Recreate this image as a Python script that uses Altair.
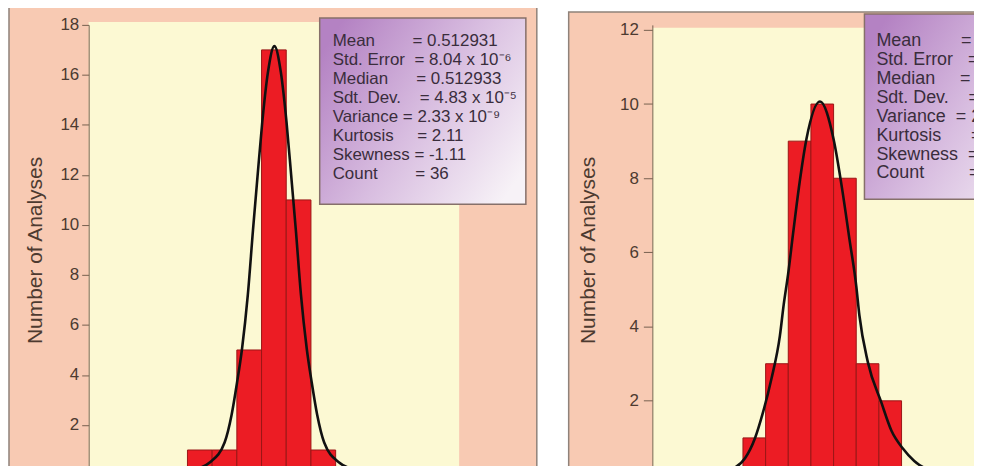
import altair as alt
import pandas as pd

NB = "\u00a0"
FONT = "Liberation Sans"

# ---------------- Left panel data ----------------
left_bin_start = [0.51275, 0.51280, 0.51285, 0.51290, 0.51295, 0.51300]
left_bin_end = [0.51280, 0.51285, 0.51290, 0.51295, 0.51300, 0.51305]
left_counts = [1, 1, 5, 17, 11, 1]
left_curve_x = [0.5127204, 0.5127607, 0.5127950, 0.5128252, 0.5128393, 0.5128504,
                0.5128605, 0.5128722, 0.5128827, 0.5128921, 0.5129014, 0.5129129,
                0.5129260, 0.5129391, 0.5129506, 0.5129599, 0.5129694, 0.5129798,
                0.5129915, 0.5130016, 0.5130127, 0.5130268, 0.5130571, 0.5130913,
                0.5131317]
left_curve_y = [0.05, 0.2, 0.5, 1.3, 2.4, 3.7, 5.05, 7.2, 9.8, 12.0, 14.1, 16.1,
                17.15, 16.1, 14.1, 12.0, 9.8, 7.2, 5.05, 3.7, 2.4, 1.3, 0.5, 0.2, 0.05]
left_y_ticks = [0, 2, 4, 6, 8, 10, 12, 14, 16, 18]
left_y_domain = [0, 18]
left_stats = [
    "Mean" + NB * 8 + "= 0.512931",
    "Std. Error" + NB * 2 + "= 8.04 x 10\u207b\u2076",
    "Median" + NB * 6 + "= 0.512933",
    "Sdt. Dev." + NB * 4 + "= 4.83 x 10\u207b\u2075",
    "Variance" + NB * 1 + "= 2.33 x 10\u207b\u2079",
    "Kurtosis" + NB * 5 + "= 2.11",
    "Skewness" + NB * 1 + "= -1.11",
    "Count" + NB * 8 + "= 36",
]

# ---------------- Right panel data ----------------
right_bin_start = [0.51263, 0.51264, 0.51265, 0.51266, 0.51267, 0.51268, 0.51269]
right_bin_end = [0.51264, 0.51265, 0.51266, 0.51267, 0.51268, 0.51269, 0.51270]
right_counts = [1, 3, 9, 10, 8, 3, 2]
right_curve_x = [0.5125992, 0.5126111, 0.5126199, 0.5126257, 0.5126309, 0.5126353,
                 0.5126389, 0.5126426, 0.5126463, 0.5126480, 0.5126499, 0.5126521,
                 0.5126547, 0.5126580, 0.5126640, 0.5126700, 0.5126738, 0.5126770,
                 0.5126800, 0.5126814, 0.5126851, 0.5126910, 0.5126955, 0.5127005,
                 0.5127056, 0.5127107, 0.5127210, 0.5127386]
right_curve_y = [0.03, 0.05, 0.1, 0.18, 0.45, 0.99, 1.7, 2.6, 3.75, 4.6, 5.4, 6.5,
                 7.75, 9.05, 10.07, 9.05, 7.7, 6.36, 5.1, 4.3, 3.05, 1.97, 1.2, 0.72,
                 0.38, 0.18, 0.07, 0.03]
right_y_ticks = [0, 2, 4, 6, 8, 10, 12]
right_y_domain = [0, 12.134]
right_stats = [
    "Mean" + NB * 8 + "= 0.512664",
    "Std. Error" + NB * 3 + "= 2.48 x 10\u207b\u2076",
    "Median" + NB * 5 + "= 0.512665",
    "Sdt. Dev." + NB * 4 + "= 1.49 x 10\u207b\u2075",
    "Variance" + NB * 2 + "= 2.22 x 10\u207b\u00b9\u2070",
    "Kurtosis" + NB * 6 + "= -0.24",
    "Skewness" + NB * 2 + "= 0.18",
    "Count" + NB * 9 + "= 36",
]

Y_TITLE = "Number of Analyses"

SALMON = "#f8cab3"
YELLOW = "#fcf9d3"
FRAME = "#8f827a"
RED = "#ec1c24"
BAR_EDGE = "#9a1616"
AXIS_C = "#76604f"
TEXT_C = "#4d3a30"
BOX_TEXT = "#3a2d3c"

gradient = alt.LinearGradient(
    gradient="linear",
    stops=[alt.GradientStop(color="#b482c3", offset=0),
           alt.GradientStop(color="#d8bde0", offset=0.5),
           alt.GradientStop(color="#f7f2f7", offset=1)],
    x1=0, x2=1, y1=0.2, y2=0.8,
)


def panel(bs, be, counts, cx, cy, yticks, ydom, stats, xdom, w, h, fr, ytop, box,
          tx, ty, fsize, tick, lpad, tpad):
    hist = pd.DataFrame({"start": bs, "end": be, "count": counts})
    curve = pd.DataFrame({"x": cx, "y": cy})
    one = pd.DataFrame({"k": [0]})
    xs = alt.Scale(domain=xdom, nice=False, zero=False)
    ys = alt.Scale(domain=ydom, nice=False)

    layers = []
    layers.append(alt.Chart(one).mark_rect(fill=SALMON, stroke=FRAME, strokeWidth=1.5).encode(
        x=alt.value(fr[0]), x2=alt.value(fr[1]), y=alt.value(fr[2]), y2=alt.value(h + 30)))
    layers.append(alt.Chart(one).mark_rect(fill=YELLOW).encode(
        x=alt.value(0), x2=alt.value(w), y=alt.value(ytop), y2=alt.value(h)))
    bars = alt.Chart(hist).mark_rect(color=RED, stroke=BAR_EDGE, strokeWidth=1).encode(
        x=alt.X("start:Q", scale=xs,
                axis=alt.Axis(labels=False, ticks=False, title=None, domainColor=AXIS_C,
                              grid=False, zindex=1)),
        x2="end:Q",
        y=alt.Y("count:Q", scale=ys,
                axis=alt.Axis(values=yticks, title=Y_TITLE, titleFont=FONT, titleFontSize=21,
                              titleFontWeight="normal", titleColor=TEXT_C, titlePadding=tpad,
                              labelFont=FONT, labelFontSize=17, labelColor=TEXT_C,
                              labelPadding=lpad, tickSize=tick, tickColor=AXIS_C,
                              domainColor=AXIS_C, grid=False, zindex=1)),
    )
    layers.append(bars)
    layers.append(alt.Chart(curve).mark_line(color="#111111", strokeWidth=2.6,
                                              interpolate="monotone").encode(
        x=alt.X("x:Q", scale=xs), y=alt.Y("y:Q", scale=ys)))
    layers.append(alt.Chart(one).mark_rect(fill=gradient, stroke="#86706a", strokeWidth=1.5).encode(
        x=alt.value(box[0]), x2=alt.value(box[1]), y=alt.value(box[2]), y2=alt.value(box[3])))
    layers.append(alt.Chart(one).mark_text(text=stats, align="left", baseline="top",
                                            font=FONT, fontSize=fsize, lineHeight=19,
                                            color=BOX_TEXT).encode(
        x=alt.value(tx), y=alt.value(ty)))
    return alt.layer(*layers).properties(width=w, height=h)


left = panel(left_bin_start, left_bin_end, left_counts, left_curve_x, left_curve_y,
             left_y_ticks, left_y_domain, left_stats, [0.51255, 0.51330], 372, 452,
             (-80, 450, -18), -3, (232, 439, -7, 180), 245, 8.5, 17, 7, 3, 14)
right = panel(right_bin_start, right_bin_end, right_counts, right_curve_x, right_curve_y,
              right_y_ticks, right_y_domain, right_stats, [0.51259, 0.51275], 364, 452,
              (-84, 446, -13), 3, (213, 420, -11, 175), 225, 7.2, 18, 9, 5, 21)

chart = alt.hconcat(left, right, spacing=30).properties(
    padding={"left": 0, "top": -3, "right": -124, "bottom": -41}
).configure(background="white").configure_view(strokeWidth=0)

chart.save("out.html", embed_options={"renderer": "svg", "actions": False})
